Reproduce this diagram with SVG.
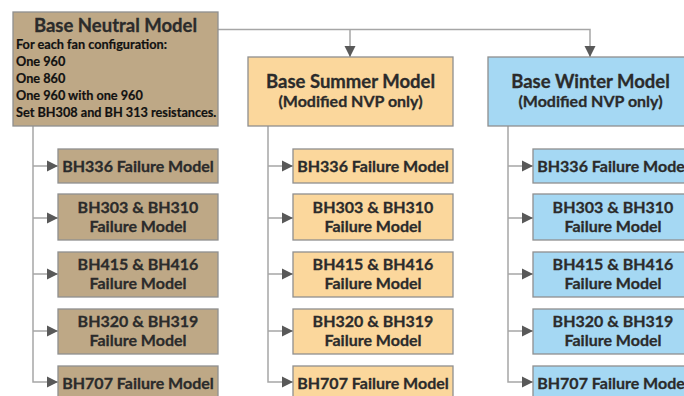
<svg xmlns="http://www.w3.org/2000/svg" width="684" height="396" viewBox="0 0 684 396">
<defs>
<style>
.box{stroke:#8f8f8f;stroke-width:1.3}
.tan{fill:#bea886}
.gold{fill:#fbd79c}
.blue{fill:#a5d8f3}
.t{font-family:Lato,"Open Sans","Liberation Sans",sans-serif;font-weight:bold;fill:#2b2b2b;stroke:#2b2b2b;stroke-width:0.3;text-anchor:middle}
.c{font-size:16px}
.h{font-size:18.5px}
.s{font-size:16px}
.n{font-family:Lato,"Open Sans","Liberation Sans",sans-serif;font-weight:bold;fill:#111;stroke:#111;stroke-width:0.2;font-size:12.7px}
.ln{fill:none;stroke:#a6a6a6;stroke-width:1.5}
</style>
<marker id="ah" markerUnits="userSpaceOnUse" markerWidth="12" markerHeight="12" viewBox="0 0 12 12" refX="11" refY="6" orient="auto">
<path d="M0,0.5 L11,6 L0,11.5 Z" fill="#595959"/>
</marker>
</defs>
<rect width="684" height="396" fill="#ffffff"/>
<g id="connectors">
<path class="ln" d="M218,29.5 H590 V57" marker-end="url(#ah)"/>
<path class="ln" d="M350,29.5 V57" marker-end="url(#ah)"/>
<path class="ln" d="M33,126 V382 H58" marker-end="url(#ah)"/>
<path class="ln" d="M33,166 H58" marker-end="url(#ah)"/>
<path class="ln" d="M33,218 H58" marker-end="url(#ah)"/>
<path class="ln" d="M33,274 H58" marker-end="url(#ah)"/>
<path class="ln" d="M33,331 H58" marker-end="url(#ah)"/>
<path class="ln" d="M268,126 V382 H293" marker-end="url(#ah)"/>
<path class="ln" d="M268,166 H293" marker-end="url(#ah)"/>
<path class="ln" d="M268,218 H293" marker-end="url(#ah)"/>
<path class="ln" d="M268,274 H293" marker-end="url(#ah)"/>
<path class="ln" d="M268,331 H293" marker-end="url(#ah)"/>
<path class="ln" d="M508,126 V382 H533" marker-end="url(#ah)"/>
<path class="ln" d="M508,166 H533" marker-end="url(#ah)"/>
<path class="ln" d="M508,218 H533" marker-end="url(#ah)"/>
<path class="ln" d="M508,274 H533" marker-end="url(#ah)"/>
<path class="ln" d="M508,331 H533" marker-end="url(#ah)"/>
</g>
<g id="neutral">
<rect class="box tan" x="13" y="12" width="205" height="114"/>
<text class="t h" x="115.5" y="32">Base Neutral Model</text>
<text class="n" x="16" y="49">For each fan configuration:</text>
<text class="n" x="16" y="66">One 960</text>
<text class="n" x="16" y="83">One 860</text>
<text class="n" x="16" y="100">One 960 with one 960</text>
<text class="n" x="16" y="117">Set BH308 and BH 313 resistances.</text>
</g>
<g id="summer">
<rect class="box gold" x="248" y="57" width="205" height="69"/>
<text class="t h" x="350.5" y="88">Base Summer Model</text>
<text class="t s" x="350.5" y="107">(Modified NVP only)</text>
</g>
<g id="winter">
<rect class="box blue" x="488" y="57" width="205" height="69"/>
<text class="t h" x="590.5" y="88">Base Winter Model</text>
<text class="t s" x="590.5" y="107">(Modified NVP only)</text>
</g>
<g id="n1"><rect class="box tan" x="58" y="149" width="160" height="34"/><text class="t c" x="138" y="171.5">BH336 Failure Model</text></g>
<g id="n2"><rect class="box tan" x="58" y="194" width="160" height="46"/><text class="t c" x="138" y="212.5">BH303 &amp; BH310</text><text class="t c" x="138" y="231.5">Failure Model</text></g>
<g id="n3"><rect class="box tan" x="58" y="252" width="160" height="45"/><text class="t c" x="138" y="269.5">BH415 &amp; BH416</text><text class="t c" x="138" y="288.5">Failure Model</text></g>
<g id="n4"><rect class="box tan" x="58" y="309" width="160" height="45"/><text class="t c" x="138" y="326.5">BH320 &amp; BH319</text><text class="t c" x="138" y="345.5">Failure Model</text></g>
<g id="n5"><rect class="box tan" x="58" y="366" width="160" height="34"/><text class="t c" x="138" y="388.5">BH707 Failure Model</text></g>
<g id="s1"><rect class="box gold" x="293" y="149" width="160" height="34"/><text class="t c" x="373" y="171.5">BH336 Failure Model</text></g>
<g id="s2"><rect class="box gold" x="293" y="194" width="160" height="46"/><text class="t c" x="373" y="212.5">BH303 &amp; BH310</text><text class="t c" x="373" y="231.5">Failure Model</text></g>
<g id="s3"><rect class="box gold" x="293" y="252" width="160" height="45"/><text class="t c" x="373" y="269.5">BH415 &amp; BH416</text><text class="t c" x="373" y="288.5">Failure Model</text></g>
<g id="s4"><rect class="box gold" x="293" y="309" width="160" height="45"/><text class="t c" x="373" y="326.5">BH320 &amp; BH319</text><text class="t c" x="373" y="345.5">Failure Model</text></g>
<g id="s5"><rect class="box gold" x="293" y="366" width="160" height="34"/><text class="t c" x="373" y="388.5">BH707 Failure Model</text></g>
<g id="w1"><rect class="box blue" x="533" y="149" width="160" height="34"/><text class="t c" x="613" y="171.5">BH336 Failure Model</text></g>
<g id="w2"><rect class="box blue" x="533" y="194" width="160" height="46"/><text class="t c" x="613" y="212.5">BH303 &amp; BH310</text><text class="t c" x="613" y="231.5">Failure Model</text></g>
<g id="w3"><rect class="box blue" x="533" y="252" width="160" height="45"/><text class="t c" x="613" y="269.5">BH415 &amp; BH416</text><text class="t c" x="613" y="288.5">Failure Model</text></g>
<g id="w4"><rect class="box blue" x="533" y="309" width="160" height="45"/><text class="t c" x="613" y="326.5">BH320 &amp; BH319</text><text class="t c" x="613" y="345.5">Failure Model</text></g>
<g id="w5"><rect class="box blue" x="533" y="366" width="160" height="34"/><text class="t c" x="613" y="388.5">BH707 Failure Model</text></g>
</svg>
